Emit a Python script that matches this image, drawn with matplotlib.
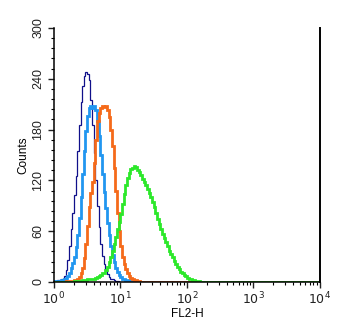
import numpy as np
import matplotlib.pyplot as plt
from matplotlib.ticker import MultipleLocator, LogLocator, NullFormatter

plt.rcParams['font.family'] = ['Liberation Sans', 'DejaVu Sans']

# counts per channel; channels are 0.025 decade wide starting at 10^0,
# every channel after the listed ones is 0 up to 10^4
navy = [1, 1, 2, 2, 3, 4, 7, 14, 26, 42,
        62, 82, 103, 125, 155, 185, 212, 232, 243, 248,
        246, 238, 215, 185, 152, 120, 90, 65, 45, 31,
        21, 14, 9, 6, 4, 3, 2, 1, 1, 0]
light_blue = [1, 1, 1, 1, 2, 2, 3, 5, 7, 11,
              16, 22, 30, 41, 55, 75, 100, 128, 155, 178,
              196, 206, 208, 205, 208, 203, 190, 172, 150, 127,
              106, 87, 70, 55, 42, 32, 24, 17, 12, 8,
              6, 4, 3, 2, 2, 1, 1, 0]
orange = [0, 0, 0, 0, 0, 0, 0, 1, 1, 1,
          1, 1, 2, 2, 4, 6, 10, 17, 28, 45,
          66, 88, 105, 118, 140, 168, 190, 200, 205, 208,
          207, 208, 203, 195, 180, 160, 135, 108, 82, 60,
          42, 30, 21, 15, 10, 7, 5, 3, 2, 2,
          1, 1, 0]
green = [0, 0, 0, 0, 0, 0, 0, 0, 0, 0,
         0, 0, 1, 1, 1, 1, 1, 2, 2, 2,
         3, 3, 3, 4, 4, 5, 6, 7, 8, 10,
         11, 14, 18, 24, 30, 37, 45, 53, 62, 71,
         80, 92, 104, 115, 123, 129, 133, 135, 137, 136,
         132, 130, 126, 122, 118, 115, 110, 105, 100, 95,
         88, 81, 74, 68, 62, 57, 52, 47, 42, 37,
         33, 29, 25, 21, 18, 15, 12, 10, 8, 7,
         5, 4, 3, 2, 2, 1, 1, 1, 0]

x_ticks = [1, 10, 100, 1000, 10000]
x_labels = ['$10^0$', '$10^1$', '$10^2$', '$10^3$', '$10^4$']
y_ticks = [0, 60, 120, 180, 240, 300]

n_ch = 160
edges = 10 ** (np.arange(n_ch + 1) * 0.025)


def channels(counts):
    out = np.zeros(n_ch)
    out[:len(counts)] = counts
    return out


fig = plt.figure(figsize=(3.5, 3.29), dpi=100)
ax = fig.add_axes([0.154, 0.143, 0.760, 0.772])

ax.stairs(channels(navy), edges, color='#10108a', linewidth=0.9)
ax.stairs(channels(light_blue), edges, color='#2196f0', linewidth=2.0)
ax.stairs(channels(orange), edges, color='#f56a1a', linewidth=2.0)
ax.stairs(channels(green), edges, color='#2ce82a', linewidth=2.0)

ax.set_xscale('log')
ax.set_xlim(1, 10000)
ax.set_ylim(0, 300)
ax.set_xticks(x_ticks)
ax.set_xticklabels(x_labels)
ax.xaxis.set_minor_locator(LogLocator(base=10, subs=np.arange(2, 10)))
ax.xaxis.set_minor_formatter(NullFormatter())
ax.set_yticks(y_ticks)
ax.yaxis.set_minor_locator(MultipleLocator(12))
for lab in ax.get_yticklabels():
    lab.set_rotation(90)
    lab.set_va('center')

ax.spines['top'].set_visible(False)
for s in ['left', 'bottom']:
    ax.spines[s].set_linewidth(1.1)
ax.spines['right'].set_linewidth(1.4)
ax.tick_params(which='major', length=4, width=1, labelsize=9, colors='#222222', pad=2)
ax.tick_params(which='minor', length=2.5, width=0.8)
ax.tick_params(axis='y', pad=3)

ax.set_xlabel('FL2-H', fontsize=8.5, labelpad=1)
ax.set_ylabel('Counts', fontsize=8.5, labelpad=2)

fig.savefig('out.png', dpi=100)
